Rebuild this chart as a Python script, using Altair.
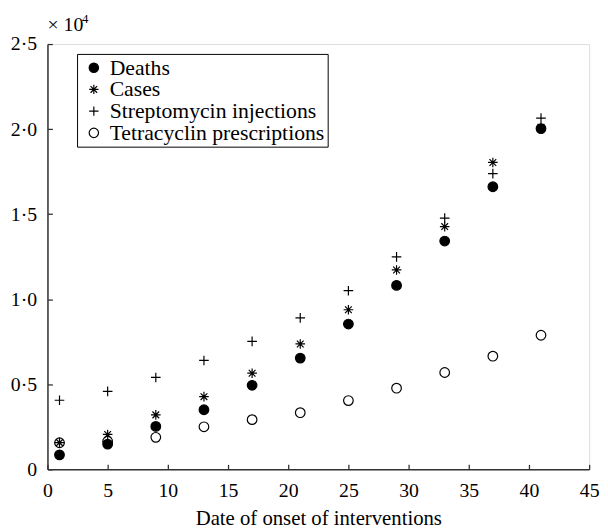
import altair as alt
import pandas as pd

days = [1, 5, 9, 13, 17, 21, 25, 29, 33, 37, 41]
deaths = [850, 1480, 2520, 3500, 4940, 6540, 8540, 10810, 13420, 16610, 20030]
cases = [1570, 2050, 3200, 4270, 5650, 7370, 9380, 11720, 14270, 18040, 20100]
streptomycin = [4060, 4580, 5400, 6400, 7520, 8900, 10500, 12490, 14770, 17380, 20650]
tetracyclin = [1560, 1650, 1880, 2500, 2920, 3330, 4040, 4770, 5690, 6650, 7880]

series_names = ["Deaths", "Cases", "Streptomycin injections", "Tetracyclin prescriptions"]
x_ticks = [0, 5, 10, 15, 20, 25, 30, 35, 40, 45]
y_ticks = [0, 5000, 10000, 15000, 20000, 25000]

ASTERISK = "M0,-1L0,1M-1,0L1,0M-0.7,-0.7L0.7,0.7M-0.7,0.7L0.7,-0.7"
PLUS = "M-1,0L1,0M0,-1L0,1"
shapes = ["circle", ASTERISK, PLUS, "circle"]
fills = ["black", "transparent", "transparent", "transparent"]
strokes = ["black", "black", "black", "black"]

# draw order: tetracyclin, streptomycin, cases, deaths (deaths on top)
rows = []
for name, vals in [("Tetracyclin prescriptions", tetracyclin),
                   ("Streptomycin injections", streptomycin),
                   ("Cases", cases),
                   ("Deaths", deaths)]:
    for d, v in zip(days, vals):
        rows.append({"day": d, "value": v, "series": name})
df = pd.DataFrame(rows)

FONT = "Liberation Serif, Times New Roman, serif"
W, H = 549, 431

legend = alt.Legend(
    title=None, orient="none", legendX=30, legendY=10,
    strokeColor="black", padding=3, labelFont=FONT, labelFontSize=22,
    labelColor="black", rowPadding=0, symbolSize=90, symbolStrokeWidth=1.2,
    symbolStrokeColor="black", labelOffset=5, offset=0, labelLimit=0,
    symbolOffset=3,
)

ylabel = "datum.value == 0 ? '0' : replace(format(datum.value / 10000, '.1f'), '.', '\u00b7')"

points = alt.Chart(df).mark_point(opacity=1, strokeWidth=1.2, size=95).encode(
    x=alt.X("day:Q", scale=alt.Scale(domain=[0, 45], nice=False),
            axis=alt.Axis(values=x_ticks, title="Date of onset of interventions",
                          ticks=False, grid=False, labelFont=FONT, labelFontSize=20,
                          labelColor="black", titleFont=FONT, titleFontSize=21,
                          titleFontWeight="normal", titleColor="black",
                          labelPadding=12, titlePadding=7, domainColor="#333333",
                          domainWidth=1.5, labelFlush=False)),
    y=alt.Y("value:Q", scale=alt.Scale(domain=[0, 25000], nice=False),
            axis=alt.Axis(values=y_ticks, title=None, ticks=False, grid=False,
                          labelExpr=ylabel, labelFont=FONT, labelFontSize=20,
                          labelColor="black", labelPadding=11, domainColor="#333333",
                          domainWidth=1.5, labelFlush=False)),
    shape=alt.Shape("series:N", scale=alt.Scale(domain=series_names, range=shapes), legend=legend),
    fill=alt.Fill("series:N", scale=alt.Scale(domain=series_names, range=fills), legend=legend),
    stroke=alt.Stroke("series:N", scale=alt.Scale(domain=series_names, range=strokes), legend=legend),
    order=alt.Order("rowidx:Q"),
).transform_window(rowidx="row_number()")

tick_layer = alt.Chart(df).mark_point(opacity=0).encode(
    x=alt.X("day:Q", axis=alt.Axis(orient="top", offset=-H, values=x_ticks, labels=False,
                                   domain=False, ticks=True, tickSize=5, tickColor="#333333",
                                   tickWidth=1.3, grid=False, title=None)),
    y=alt.Y("value:Q", axis=alt.Axis(orient="right", offset=-W, values=y_ticks, labels=False,
                                     domain=False, ticks=True, tickSize=5, tickColor="#333333",
                                     tickWidth=1.3, grid=False, title=None)),
)

mult = alt.Chart(pd.DataFrame({"t": ["\u00d7 10"]})).mark_text(
    font=FONT, fontSize=20, align="left", baseline="alphabetic", color="black"
).encode(text="t:N", x=alt.value(0), y=alt.value(-13))

sup = alt.Chart(pd.DataFrame({"t": ["4"]})).mark_text(
    font=FONT, fontSize=13, align="left", baseline="alphabetic", color="black"
).encode(text="t:N", x=alt.value(35), y=alt.value(-21))

chart = alt.layer(points, tick_layer, mult, sup).resolve_axis(
    x="independent", y="independent"
).properties(
    width=W, height=H,
    autosize=alt.AutoSizeParams(type="none"),
    padding={"left": 40, "top": 33, "right": 11, "bottom": 60},
).configure_view(stroke=None).configure(background="white")

chart.save("out.html", embed_options={"renderer": "svg", "actions": False})
